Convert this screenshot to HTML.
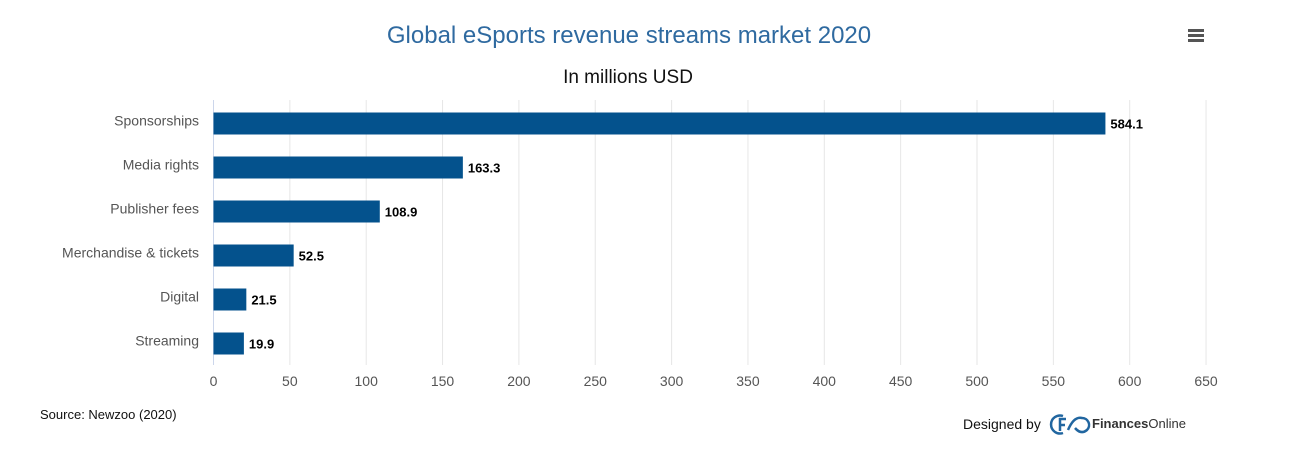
<!DOCTYPE html>
<html><head><meta charset="utf-8"><style>
body{margin:0;background:#fff;width:1290px;height:469px;overflow:hidden;font-family:"Liberation Sans",sans-serif}
</style></head><body>
<svg width="1290" height="469">
<text x="629" y="43" text-anchor="middle" font-size="24" fill="#2f6aa0">Global eSports revenue streams market 2020</text>
<text x="628" y="83" text-anchor="middle" font-size="19" fill="#111">In millions USD</text>
<g fill="#555"><rect x="1188" y="29" width="16" height="3"/><rect x="1188" y="34" width="16" height="3"/><rect x="1188" y="39" width="16" height="3"/></g>
<g id="grid"></g><g id="bars"></g>
<text x="40" y="419" font-size="13" fill="#111">Source: Newzoo (2020)</text>
<text x="963" y="429" font-size="14" fill="#111">Designed by</text>
<g fill="none" stroke="#2166a0" stroke-width="2.5"><path d="M1063 416 a9 9 0 1 0 0 17 M1066 419 h-6 v12 M1060 425 h5"/><path d="M1068 430 q6 -14 14 -12 a7 7 0 0 1 5 12 q-6 5 -12 -2"/></g>
<text x="1092" y="428" font-size="13" fill="#333" font-weight="bold">Finances<tspan font-weight="normal">Online</tspan></text>
</svg>
<script>
const categories=["Sponsorships","Media rights","Publisher fees","Merchandise & tickets","Digital","Streaming"];
const values=[584.1,163.3,108.9,52.5,21.5,19.9];
const ticks=[0,50,100,150,200,250,300,350,400,450,500,550,600,650];
const NS="http://www.w3.org/2000/svg";
const x0=213.5,k=1.527,y0=123.5,step=44,bh=22;
const xs=v=>x0+v*k;
function mk(t,a,p,txt){const e=document.createElementNS(NS,t);for(const q in a)e.setAttribute(q,a[q]);if(txt!==undefined)e.textContent=txt;p.appendChild(e);return e;}
const g=document.getElementById('grid'),b=document.getElementById('bars');
ticks.forEach(t=>{
 const l=mk('line',{x1:xs(t),x2:xs(t),y1:100,y2:365,stroke:t===0?'#ccd6eb':'#e6e6e6'},g);
 
 
 const tx=mk('text',{x:xs(t),y:386,'text-anchor':'middle','font-size':14,fill:'#555'},g,String(t));
 
 
});
categories.forEach((c,i)=>{
 const cy=y0+i*step;
 const lb=mk('text',{x:199,y:cy+2,'text-anchor':'end','font-size':14,fill:'#555'},b,c);
 
 
 const r=mk('rect',{x:x0,y:cy-bh/2,width:xs(values[i])-x0,height:bh,fill:'#04528d'},b);
 
 
 const v=mk('text',{x:xs(values[i])+5,y:cy+5,'font-size':13,'font-weight':'bold',fill:'#000'},b,values[i].toFixed(1));
 
 
});
</script>
</body></html>
